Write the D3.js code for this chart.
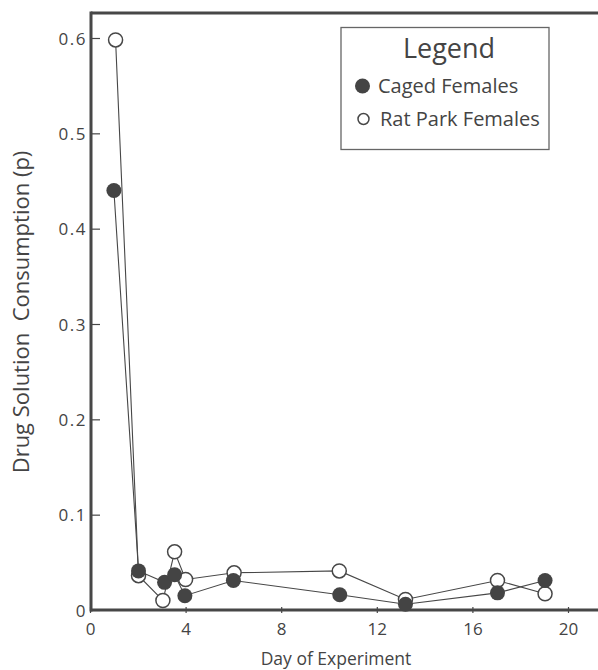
<!DOCTYPE html>
<html>
<head>
<meta charset="utf-8">
<script src="https://cdn.jsdelivr.net/npm/d3@7"></script>
<style>
  html, body { margin: 0; padding: 0; background: #fff; }
  svg { display: block; }
  text { font-family: "Open Sans", "Lato", sans-serif; fill: #444; }
</style>
</head>
<body>
<svg id="chart" width="598" height="670"></svg>
<script>
// Day of experiment for each measurement
const cagedDays = [1.0, 2.03, 3.12, 3.54, 3.97, 6.0, 10.45, 13.2, 17.05, 19.04];
const cagedValues = [0.44, 0.041, 0.029, 0.037, 0.015, 0.031, 0.016, 0.006, 0.018, 0.031];
const parkDays = [1.07, 2.03, 3.05, 3.54, 4.0, 6.03, 10.43, 13.2, 17.05, 19.04];
const parkValues = [0.598, 0.036, 0.010, 0.061, 0.032, 0.039, 0.041, 0.011, 0.031, 0.017];
const xTicks = [0, 4, 8, 12, 16, 20];
const yTicks = [0, 0.1, 0.2, 0.3, 0.4, 0.5, 0.6];
const seriesNames = ["Caged Females", "Rat Park Females"];

const svg = d3.select("#chart");
const ink = "#474747";

const x = d3.scaleLinear().domain([0, 20]).range([90, 568]);
const y = d3.scaleLinear().domain([0, 0.6]).range([610, 38]);

const frameLeft = 91, frameRight = 598, frameTop = 13, frameBottom = 610;

// frame: top rule, left and bottom axis lines
svg.append("line").attr("x1", frameLeft).attr("x2", frameRight).attr("y1", frameTop).attr("y2", frameTop)
  .attr("stroke", ink).attr("stroke-width", 3);

// y axis with inward ticks
const yAxis = d3.axisRight(y).tickValues(yTicks).tickSize(9).tickPadding(-13)
  .tickFormat(d => d === 0 ? "0" : d3.format(".1f")(d));
const gy = svg.append("g").attr("transform", `translate(${frameLeft},0)`).call(yAxis);
gy.select(".domain").remove();
gy.selectAll(".tick line").attr("stroke", ink).attr("stroke-width", 1.2);
gy.selectAll(".tick text").attr("text-anchor", "end").attr("font-size", 17)
  .attr("letter-spacing", 1.5).attr("dy", "0.36em").style("fill", "#444");

// x axis with ticks crossing the line
const xAxis = d3.axisBottom(x).tickValues(xTicks).tickSize(3).tickPadding(10);
const gx = svg.append("g").attr("transform", `translate(0,${frameBottom})`).call(xAxis);
gx.select(".domain").remove();
gx.selectAll(".tick line").attr("y1", -3).attr("stroke", ink).attr("stroke-width", 1.2);
gx.selectAll(".tick text").attr("font-size", 17).style("fill", "#444");

svg.append("line").attr("x1", frameLeft).attr("x2", frameLeft).attr("y1", frameTop - 1.5).attr("y2", frameBottom + 1.5)
  .attr("stroke", ink).attr("stroke-width", 3);
svg.append("line").attr("x1", frameLeft).attr("x2", frameRight).attr("y1", frameBottom).attr("y2", frameBottom)
  .attr("stroke", ink).attr("stroke-width", 3);

// axis titles
svg.append("text").attr("x", 336).attr("y", 665).attr("text-anchor", "middle")
  .attr("font-size", 17.5).text("Day of Experiment");
svg.append("text").attr("transform", "translate(29,312) rotate(-90)")
  .attr("text-anchor", "middle").attr("font-size", 22)
  .style("white-space", "pre").attr("xml:space", "preserve")
  .text("Drug Solution  Consumption (p)");

const line = d3.line().x(d => x(d[0])).y(d => y(d[1]));
const caged = cagedDays.map((d, i) => [d, cagedValues[i]]);
const park = parkDays.map((d, i) => [d, parkValues[i]]);

[caged, park].forEach(s => {
  svg.append("path").datum(s).attr("d", line)
    .attr("fill", "none").attr("stroke", ink).attr("stroke-width", 1.1);
});

svg.append("g").selectAll("circle").data(park).join("circle")
  .attr("cx", d => x(d[0])).attr("cy", d => y(d[1])).attr("r", 7)
  .attr("fill", "#fff").attr("stroke", ink).attr("stroke-width", 1.5);
svg.append("g").selectAll("circle").data(caged).join("circle")
  .attr("cx", d => x(d[0])).attr("cy", d => y(d[1])).attr("r", 7.5)
  .attr("fill", "#444");

// legend
const lg = svg.append("g");
lg.append("rect").attr("x", 341).attr("y", 27.5).attr("width", 208).attr("height", 122)
  .attr("fill", "#fff").attr("stroke", "#666").attr("stroke-width", 1.3);
lg.append("text").attr("x", 449).attr("y", 58).attr("text-anchor", "middle")
  .attr("font-size", 27).text("Legend");
lg.append("circle").attr("cx", 362.5).attr("cy", 86).attr("r", 7.5).attr("fill", "#444");
lg.append("text").attr("x", 378).attr("y", 93).attr("font-size", 20).text(seriesNames[0]);
lg.append("circle").attr("cx", 363.5).attr("cy", 119).attr("r", 5.5)
  .attr("fill", "#fff").attr("stroke", ink).attr("stroke-width", 1.5);
lg.append("text").attr("x", 380).attr("y", 126).attr("font-size", 20).text(seriesNames[1]);
</script>
</body>
</html>
